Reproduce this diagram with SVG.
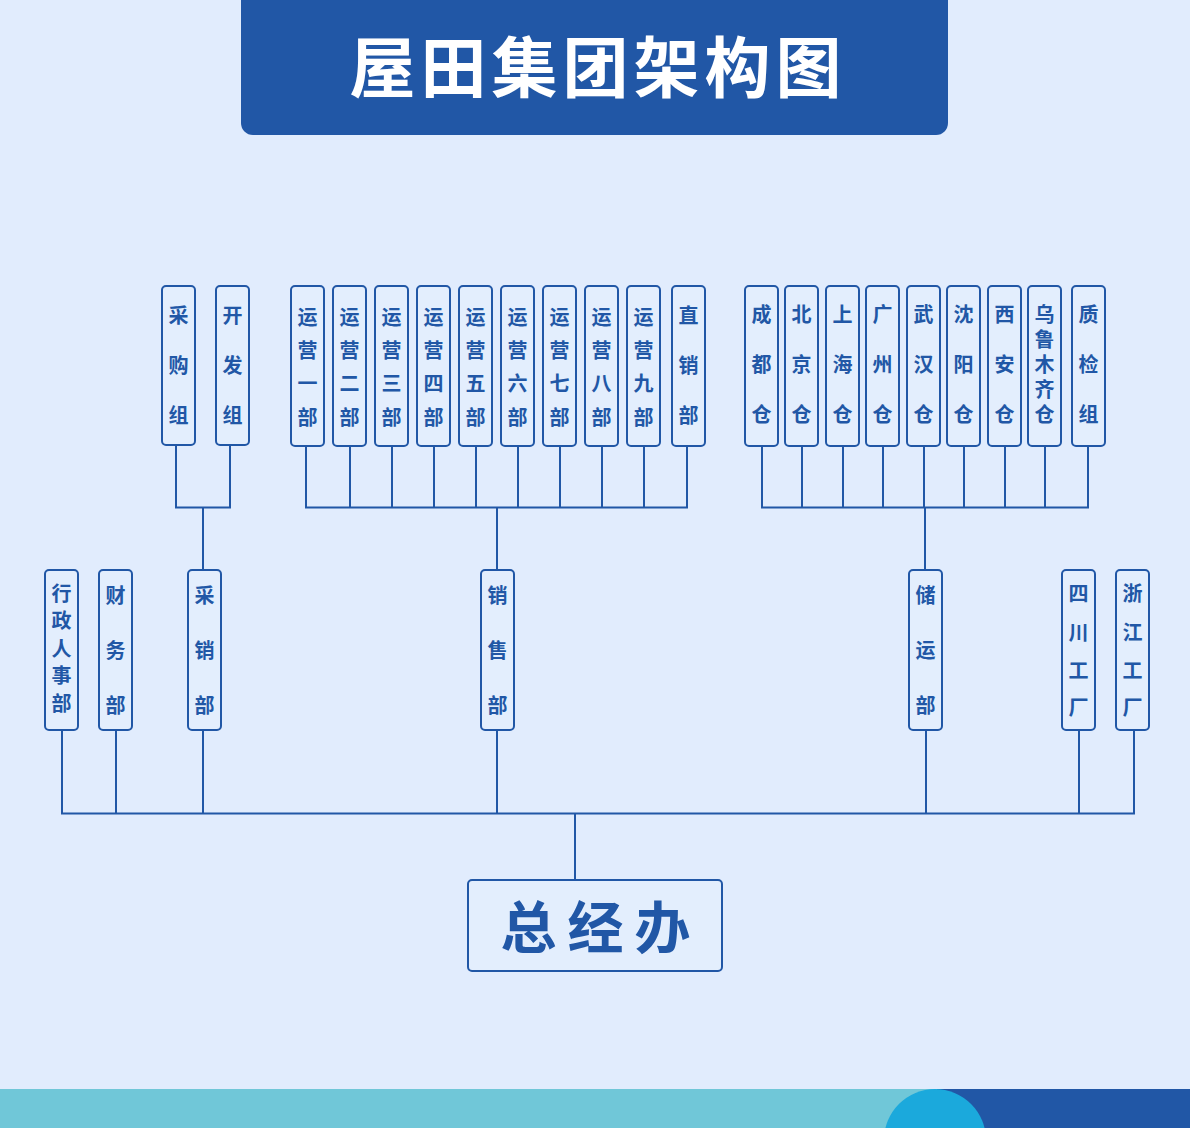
<svg xmlns="http://www.w3.org/2000/svg" width="1190" height="1128" viewBox="0 0 1190 1128">
<style>
.n{fill:#e3eefd;stroke:#2157a6;stroke-width:2}
.t{font-family:"Noto Sans CJK SC","Noto Sans",sans-serif;font-weight:700;font-size:20px;fill:#2157a6;text-anchor:middle;dominant-baseline:central}
.c{fill:none;stroke:#2157a6;stroke-width:2}
</style>
<rect width="1190" height="1128" fill="#e1ecfd"/>
<g id="title">
<path d="M241 0H948V123A12 12 0 0 1 936 135H253A12 12 0 0 1 241 123Z" fill="#2157a6"/>
<text x="598" y="63" font-family="'Noto Sans CJK SC','Noto Sans',sans-serif" font-weight="700" font-size="66" fill="#ffffff" text-anchor="middle" dominant-baseline="central" letter-spacing="5">屋田集团架构图</text>
</g>
<g id="connectors" class="c">
<path d="M176 446V507.5H230V446M203 507.5V570"/>
<path d="M306 446V507.5H687V446M350 446V507.5M392 446V507.5M434 446V507.5M476 446V507.5M518 446V507.5M560 446V507.5M602 446V507.5M644 446V507.5M497 507.5V570"/>
<path d="M762 446V507.5H1088V446M802 446V507.5M843 446V507.5M883 446V507.5M924 446V507.5M964 446V507.5M1005 446V507.5M1045 446V507.5M925 507.5V570"/>
<path d="M62 730V813.5H1134V730M116 730V813.5M203 730V813.5M497 730V813.5M926 730V813.5M1079 730V813.5M575 813.5V880"/>
</g>
<g transform="translate(0,-1.5)">
<g id="n_caigouzu"><rect class="n" x="162" y="287.5" width="33" height="159" rx="4"/><text class="t"><tspan x="178.5" y="315">采</tspan><tspan x="178.5" y="365">购</tspan><tspan x="178.5" y="415">组</tspan></text></g>
<g id="n_kaifazu"><rect class="n" x="216" y="287.5" width="33" height="159" rx="4"/><text class="t"><tspan x="232.5" y="315">开</tspan><tspan x="232.5" y="365">发</tspan><tspan x="232.5" y="415">组</tspan></text></g>
<g id="n_yy1"><rect class="n" x="291" y="287.5" width="33" height="160" rx="4"/><text class="t"><tspan x="307.5" y="317">运</tspan><tspan x="307.5" y="350">营</tspan><tspan x="307.5" y="383">一</tspan><tspan x="307.5" y="417">部</tspan></text></g>
<g id="n_yy2"><rect class="n" x="333" y="287.5" width="33" height="160" rx="4"/><text class="t"><tspan x="349.5" y="317">运</tspan><tspan x="349.5" y="350">营</tspan><tspan x="349.5" y="383">二</tspan><tspan x="349.5" y="417">部</tspan></text></g>
<g id="n_yy3"><rect class="n" x="375" y="287.5" width="33" height="160" rx="4"/><text class="t"><tspan x="391.5" y="317">运</tspan><tspan x="391.5" y="350">营</tspan><tspan x="391.5" y="383">三</tspan><tspan x="391.5" y="417">部</tspan></text></g>
<g id="n_yy4"><rect class="n" x="417" y="287.5" width="33" height="160" rx="4"/><text class="t"><tspan x="433.5" y="317">运</tspan><tspan x="433.5" y="350">营</tspan><tspan x="433.5" y="383">四</tspan><tspan x="433.5" y="417">部</tspan></text></g>
<g id="n_yy5"><rect class="n" x="459" y="287.5" width="33" height="160" rx="4"/><text class="t"><tspan x="475.5" y="317">运</tspan><tspan x="475.5" y="350">营</tspan><tspan x="475.5" y="383">五</tspan><tspan x="475.5" y="417">部</tspan></text></g>
<g id="n_yy6"><rect class="n" x="501" y="287.5" width="33" height="160" rx="4"/><text class="t"><tspan x="517.5" y="317">运</tspan><tspan x="517.5" y="350">营</tspan><tspan x="517.5" y="383">六</tspan><tspan x="517.5" y="417">部</tspan></text></g>
<g id="n_yy7"><rect class="n" x="543" y="287.5" width="33" height="160" rx="4"/><text class="t"><tspan x="559.5" y="317">运</tspan><tspan x="559.5" y="350">营</tspan><tspan x="559.5" y="383">七</tspan><tspan x="559.5" y="417">部</tspan></text></g>
<g id="n_yy8"><rect class="n" x="585" y="287.5" width="33" height="160" rx="4"/><text class="t"><tspan x="601.5" y="317">运</tspan><tspan x="601.5" y="350">营</tspan><tspan x="601.5" y="383">八</tspan><tspan x="601.5" y="417">部</tspan></text></g>
<g id="n_yy9"><rect class="n" x="627" y="287.5" width="33" height="160" rx="4"/><text class="t"><tspan x="643.5" y="317">运</tspan><tspan x="643.5" y="350">营</tspan><tspan x="643.5" y="383">九</tspan><tspan x="643.5" y="417">部</tspan></text></g>
<g id="n_zhixiao"><rect class="n" x="672" y="287.5" width="33" height="160" rx="4"/><text class="t"><tspan x="688.5" y="315">直</tspan><tspan x="688.5" y="365">销</tspan><tspan x="688.5" y="415">部</tspan></text></g>
<g id="n_chengdu"><rect class="n" x="745" y="287.5" width="33" height="160" rx="4"/><text class="t"><tspan x="761.5" y="314">成</tspan><tspan x="761.5" y="364">都</tspan><tspan x="761.5" y="414">仓</tspan></text></g>
<g id="n_beijing"><rect class="n" x="785" y="287.5" width="33" height="160" rx="4"/><text class="t"><tspan x="801.5" y="314">北</tspan><tspan x="801.5" y="364">京</tspan><tspan x="801.5" y="414">仓</tspan></text></g>
<g id="n_shanghai"><rect class="n" x="826" y="287.5" width="33" height="160" rx="4"/><text class="t"><tspan x="842.5" y="314">上</tspan><tspan x="842.5" y="364">海</tspan><tspan x="842.5" y="414">仓</tspan></text></g>
<g id="n_guangzhou"><rect class="n" x="866" y="287.5" width="33" height="160" rx="4"/><text class="t"><tspan x="882.5" y="314">广</tspan><tspan x="882.5" y="364">州</tspan><tspan x="882.5" y="414">仓</tspan></text></g>
<g id="n_wuhan"><rect class="n" x="907" y="287.5" width="33" height="160" rx="4"/><text class="t"><tspan x="923.5" y="314">武</tspan><tspan x="923.5" y="364">汉</tspan><tspan x="923.5" y="414">仓</tspan></text></g>
<g id="n_shenyang"><rect class="n" x="947" y="287.5" width="33" height="160" rx="4"/><text class="t"><tspan x="963.5" y="314">沈</tspan><tspan x="963.5" y="364">阳</tspan><tspan x="963.5" y="414">仓</tspan></text></g>
<g id="n_xian"><rect class="n" x="988" y="287.5" width="33" height="160" rx="4"/><text class="t"><tspan x="1004.5" y="314">西</tspan><tspan x="1004.5" y="364">安</tspan><tspan x="1004.5" y="414">仓</tspan></text></g>
<g id="n_wulumuqi"><rect class="n" x="1028" y="287.5" width="33" height="160" rx="4"/><text class="t" font-size="19"><tspan x="1044.5" y="314">乌</tspan><tspan x="1044.5" y="339">鲁</tspan><tspan x="1044.5" y="364">木</tspan><tspan x="1044.5" y="389">齐</tspan><tspan x="1044.5" y="414">仓</tspan></text></g>
<g id="n_zhijian"><rect class="n" x="1072" y="287.5" width="33" height="160" rx="4"/><text class="t"><tspan x="1088.5" y="314">质</tspan><tspan x="1088.5" y="364">检</tspan><tspan x="1088.5" y="414">组</tspan></text></g>
</g>
<g transform="translate(0,-1.5)">
<g id="n_xingzheng"><rect class="n" x="45" y="571.5" width="33" height="160" rx="4"/><text class="t"><tspan x="61.5" y="593">行</tspan><tspan x="61.5" y="620">政</tspan><tspan x="61.5" y="648">人</tspan><tspan x="61.5" y="675">事</tspan><tspan x="61.5" y="703">部</tspan></text></g>
<g id="n_caiwu"><rect class="n" x="99" y="571.5" width="33" height="160" rx="4"/><text class="t"><tspan x="115.5" y="595">财</tspan><tspan x="115.5" y="650">务</tspan><tspan x="115.5" y="705">部</tspan></text></g>
<g id="n_caixiao"><rect class="n" x="188" y="571.5" width="33" height="160" rx="4"/><text class="t"><tspan x="204.5" y="595">采</tspan><tspan x="204.5" y="650">销</tspan><tspan x="204.5" y="705">部</tspan></text></g>
<g id="n_xiaoshou"><rect class="n" x="481" y="571.5" width="33" height="160" rx="4"/><text class="t"><tspan x="497.5" y="595">销</tspan><tspan x="497.5" y="650">售</tspan><tspan x="497.5" y="705">部</tspan></text></g>
<g id="n_chuyun"><rect class="n" x="909" y="571.5" width="33" height="160" rx="4"/><text class="t"><tspan x="925.5" y="595">储</tspan><tspan x="925.5" y="650">运</tspan><tspan x="925.5" y="705">部</tspan></text></g>
<g id="n_sichuan"><rect class="n" x="1062" y="571.5" width="33" height="160" rx="4"/><text class="t"><tspan x="1078.5" y="593">四</tspan><tspan x="1078.5" y="632">川</tspan><tspan x="1078.5" y="670">工</tspan><tspan x="1078.5" y="707">厂</tspan></text></g>
<g id="n_zhejiang"><rect class="n" x="1116" y="571.5" width="33" height="160" rx="4"/><text class="t"><tspan x="1132.5" y="593">浙</tspan><tspan x="1132.5" y="632">江</tspan><tspan x="1132.5" y="670">工</tspan><tspan x="1132.5" y="707">厂</tspan></text></g>
</g>
<g id="n_zongjingban"><rect class="n" x="468" y="880" width="254" height="91" rx="4" stroke-width="2.5"/><text x="601" y="923" font-family="'Noto Sans CJK SC','Noto Sans',sans-serif" font-weight="700" font-size="56" fill="#2157a6" text-anchor="middle" dominant-baseline="central" letter-spacing="11">总经办</text></g>
<g id="footer">
<rect x="0" y="1089" width="1190" height="39" fill="#70c7d8"/>
<rect x="937" y="1089" width="253" height="39" fill="#2157a6"/>
<circle cx="935" cy="1140" r="51" fill="#1ba9dc"/>
</g>
</svg>
